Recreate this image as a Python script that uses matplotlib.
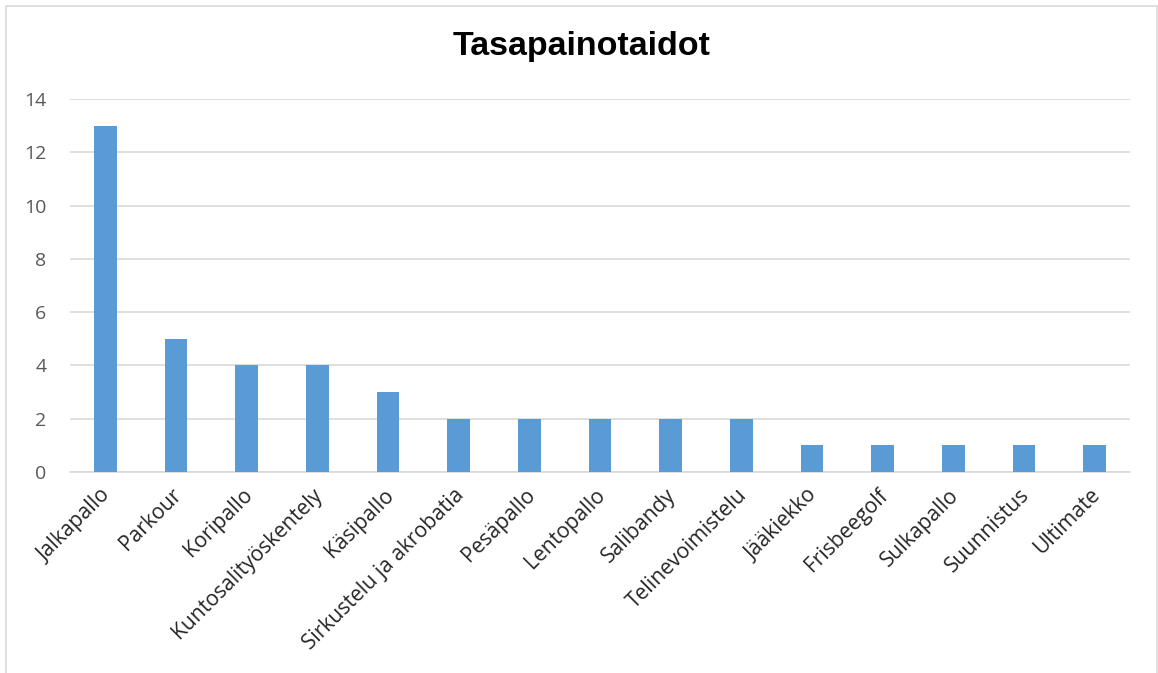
import matplotlib.pyplot as plt
from matplotlib.patches import Rectangle
from matplotlib.transforms import ScaledTranslation

categories = [
    "Jalkapallo", "Parkour", "Koripallo", "Kuntosalityöskentely", "Käsipallo",
    "Sirkustelu ja akrobatia", "Pesäpallo", "Lentopallo", "Salibandy",
    "Telinevoimistelu", "Jääkiekko", "Frisbeegolf", "Sulkapallo",
    "Suunnistus", "Ultimate",
]
values = [13, 5, 4, 4, 3, 2, 2, 2, 2, 2, 1, 1, 1, 1, 1]
y_ticks = [0, 2, 4, 6, 8, 10, 12, 14]

plt.rcParams["font.family"] = ["Open Sans", "DejaVu Sans"]

W, H = 1158, 673
fig = plt.figure(figsize=(W / 100, H / 100), dpi=100)
ax = fig.add_axes([70 / W, 1 - 472 / H, (1130 - 70) / W, (472 - 99) / H])

x = range(len(categories))
ax.bar(x, values, width=0.32, color="#5B9BD5", zorder=3)

ax.set_xlim(-0.5, len(categories) - 0.5)
ax.set_ylim(0, 14)
ax.set_yticks(y_ticks)
ax.set_yticklabels([str(t) for t in y_ticks], fontsize=14, color="#595959")
ax.set_xticks(list(x))
ax.set_xticklabels(categories, rotation=45, ha="right", rotation_mode="anchor",
                   fontsize=15.2, color="#262626")
ax.tick_params(axis="both", length=0)
ax.tick_params(axis="y", pad=17)
ax.tick_params(axis="x", pad=9)
# nudge category labels a little to the left, like the original
shift = ScaledTranslation(-5 / 100, 0, fig.dpi_scale_trans)
for lbl in ax.get_xticklabels():
    lbl.set_transform(lbl.get_transform() + shift)
ax.grid(axis="y", color="#D9D9D9", linewidth=1.2, zorder=0)
for side in ["top", "right", "left"]:
    ax.spines[side].set_visible(False)
ax.spines["bottom"].set_color("#D9D9D9")
ax.spines["bottom"].set_linewidth(1.2)

fig.text(582 / W, 1 - 47 / H, "Tasapainotaidot", ha="center", va="center",
         fontsize=24.5, fontweight="bold", family="Liberation Sans")

# chart frame
fig.patches.append(Rectangle((6 / W, -0.02), (1157 - 6) / W, 1 - 6 / H + 0.02,
                             transform=fig.transFigure, fill=False,
                             edgecolor="#D9D9D9", linewidth=1.2))

fig.savefig("out.png", dpi=100)
